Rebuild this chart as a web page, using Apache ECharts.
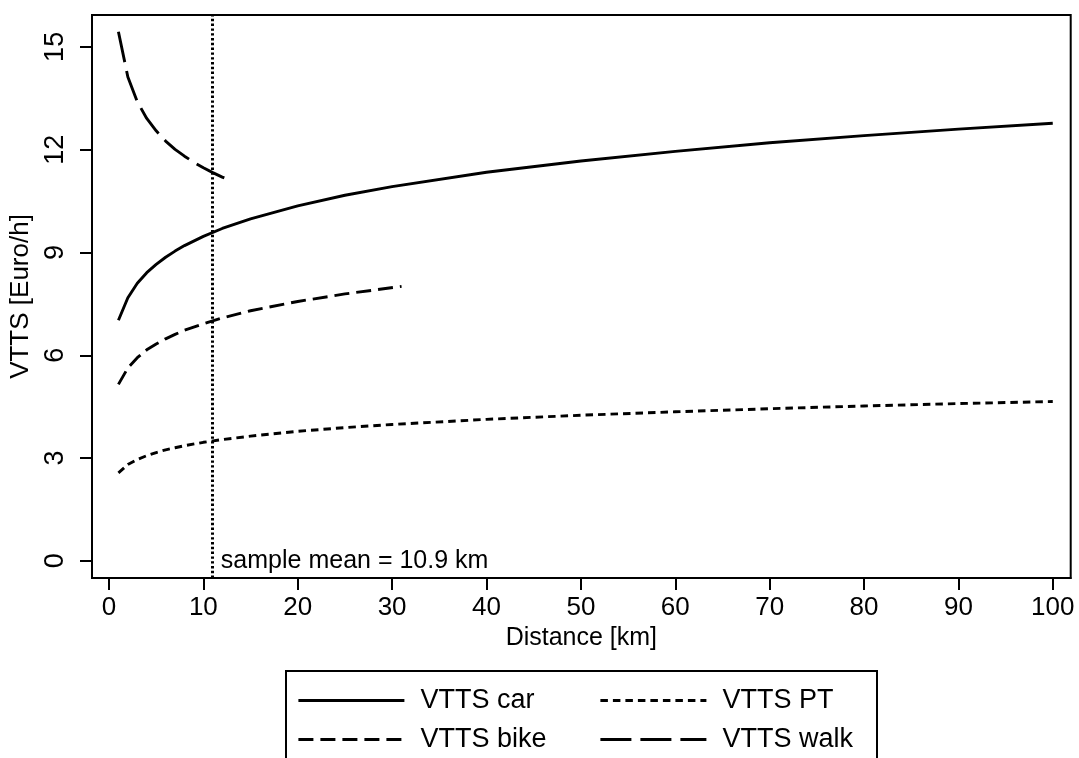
<!DOCTYPE html>
<html>
<head>
<meta charset="utf-8">
<script src="https://cdn.jsdelivr.net/npm/echarts@6/dist/echarts.min.js"></script>
<style>
html,body{margin:0;padding:0;background:#fff;}
#chart{width:1079px;height:758px;}
</style>
</head>
<body>
<div id="chart"></div>
<script>
// ---- data ----
const xCarPT   = [1, 2, 3, 4, 5, 6, 7, 8, 10, 12, 15, 20, 25, 30, 40, 50, 60, 70, 80, 90, 100];
const vttsCar  = [7.02, 7.68, 8.10, 8.41, 8.65, 8.86, 9.04, 9.20, 9.47, 9.70, 9.98, 10.36, 10.67, 10.92, 11.34, 11.67, 11.95, 12.20, 12.41, 12.60, 12.77];
const vttsPT   = [2.57, 2.81, 2.96, 3.07, 3.16, 3.24, 3.30, 3.36, 3.46, 3.54, 3.64, 3.78, 3.89, 3.98, 4.13, 4.25, 4.35, 4.44, 4.52, 4.59, 4.65];
const xBike    = [1, 2, 3, 4, 5, 6, 7, 8, 10, 12, 15, 20, 25, 31];
const vttsBike = [5.15, 5.63, 5.93, 6.16, 6.33, 6.48, 6.61, 6.73, 6.92, 7.09, 7.30, 7.57, 7.79, 8.01];
const xWalk    = [1, 2, 3, 4, 5, 6, 7, 8, 9, 10, 11, 12, 13];
const vttsWalk = [15.44, 14.12, 13.40, 12.91, 12.55, 12.25, 12.01, 11.81, 11.63, 11.47, 11.33, 11.20, 11.09];
const sampleMean = 10.9;
const xTicks = [0, 10, 20, 30, 40, 50, 60, 70, 80, 90, 100];
const yTicks = [0, 3, 6, 9, 12, 15];
const seriesNames = ['VTTS car', 'VTTS bike', 'VTTS PT', 'VTTS walk'];

function pairs(xs, ys) { return xs.map((x, i) => [x, ys[i]]); }

const FONT = 'Liberation Sans';
const chart = echarts.init(document.getElementById('chart'), null, {renderer: 'canvas'});

const lineBase = {type: 'line', symbol: 'none', smooth: false, silent: true};
const legendCommon = {
  orient: 'vertical', top: 682, height: 120,
  itemWidth: 106, itemHeight: 14, itemGap: 12,
  itemStyle: {opacity: 0},
  lineStyle: {width: 2.8},
  textStyle: {fontSize: 27, color: '#000', fontFamily: FONT, padding: [0, 0, 0, 11]},
  selectedMode: false
};

chart.setOption({
  animation: false,
  backgroundColor: '#fff',
  textStyle: {fontFamily: FONT, color: '#000'},
  grid: {left: 92, top: 15, right: 8.3, bottom: 180, show: true, borderColor: '#000', borderWidth: 2, containLabel: false},
  xAxis: {
    type: 'value', min: -1.8, max: 101.9,
    name: 'Distance [km]', nameLocation: 'middle', nameGap: 41,
    nameTextStyle: {fontSize: 25, color: '#000', fontFamily: FONT},
    axisLine: {show: true, onZero: false, lineStyle: {color: '#000', width: 2}},
    axisTick: {show: true, length: 12, lineStyle: {color: '#000', width: 2}, customValues: xTicks},
    axisLabel: {show: true, fontSize: 26, color: '#000', margin: 17, customValues: xTicks, fontFamily: FONT},
    splitLine: {show: false}
  },
  yAxis: {
    type: 'value', min: -0.5, max: 15.93,
    name: 'VTTS [Euro/h]', nameLocation: 'middle', nameGap: 47, nameRotate: 90,
    nameTextStyle: {fontSize: 26, color: '#000', fontFamily: FONT},
    axisLine: {show: true, onZero: false, lineStyle: {color: '#000', width: 2}},
    axisTick: {show: true, length: 12, lineStyle: {color: '#000', width: 2}, customValues: yTicks},
    axisLabel: {show: true, fontSize: 27, color: '#000', margin: 23, rotate: 90, customValues: yTicks, fontFamily: FONT},
    splitLine: {show: false}
  },
  legend: [
    Object.assign({}, legendCommon, {data: [seriesNames[0], seriesNames[1]], left: 292}),
    Object.assign({}, legendCommon, {data: [seriesNames[2], seriesNames[3]], left: 594})
  ],
  graphic: [
    {type: 'rect', shape: {x: 286, y: 671, width: 591, height: 120}, style: {fill: 'none', stroke: '#000', lineWidth: 2}, silent: true}
  ],
  series: [
    Object.assign({}, lineBase, {
      name: seriesNames[0], data: pairs(xCarPT, vttsCar),
      lineStyle: {color: '#000', width: 2.9, type: 'solid'}, itemStyle: {color: '#000'},
      markLine: {
        silent: true, symbol: 'none', animation: false,
        lineStyle: {color: '#000', width: 3, type: [2.4, 2.4], cap: 'butt'},
        label: {show: false},
        data: [{xAxis: sampleMean}]
      },
      markPoint: {
        silent: true, symbol: 'circle', symbolSize: 0,
        label: {show: true, position: 'right', distance: 9, fontSize: 25, color: '#000', fontFamily: FONT,
                formatter: 'sample mean = ' + sampleMean + ' km'},
        data: [{coord: [sampleMean, 0]}]
      }
    }),
    Object.assign({}, lineBase, {
      name: seriesNames[1], data: pairs(xBike, vttsBike),
      lineStyle: {color: '#000', width: 2.9, type: [15, 7], cap: 'butt'}, itemStyle: {color: '#000'}
    }),
    Object.assign({}, lineBase, {
      name: seriesNames[2], data: pairs(xCarPT, vttsPT),
      lineStyle: {color: '#000', width: 2.9, type: [7.5, 5], cap: 'butt'}, itemStyle: {color: '#000'}
    }),
    Object.assign({}, lineBase, {
      name: seriesNames[3], data: pairs(xWalk, vttsWalk),
      lineStyle: {color: '#000', width: 2.9, type: [31, 9], cap: 'butt'}, itemStyle: {color: '#000'}
    })
  ]
});
</script>
</body>
</html>
